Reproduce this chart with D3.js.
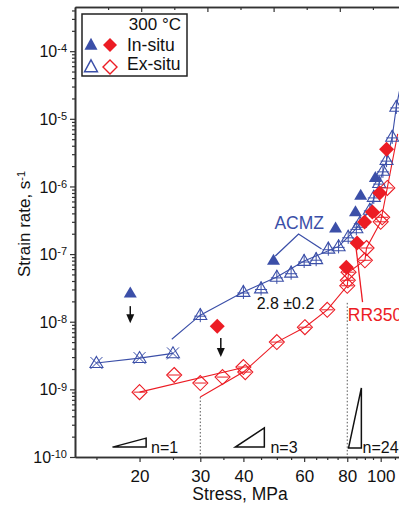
<!DOCTYPE html>
<html>
<head>
<meta charset="utf-8">
<script src="https://cdn.jsdelivr.net/npm/d3@7"></script>
<style>
  body { margin: 0; background: #fff; }
  text { font-family: "Liberation Sans", Arial, sans-serif; }
</style>
</head>
<body>
<svg id="chart" width="399" height="506"></svg>
<script>
// data: [stress MPa, strain rate 1/s]
var acmzInSitu = [[18.8, 2.65e-8], [48.9, 8.1e-8], [74, 2.42e-7], [84.5, 4.2e-7], [87.5, 7.4e-7], [96.5, 1.35e-6]];
var acmzExSitu = [[15, 2.45e-9], [20, 2.9e-9], [25, 3.4e-9], [30, 1.25e-8], [40, 2.75e-8], [45, 3.1e-8],
                  [50, 4.6e-8], [55, 5.3e-8], [60, 7.9e-8], [65, 8.4e-8], [70.5, 1.2e-7], [75.5, 1.3e-7],
                  [80.5, 1.8e-7], [85, 2.4e-7], [87, 2.9e-7], [93, 4.5e-7], [95.5, 7.0e-7], [99, 1.12e-6],
                  [101.5, 1.7e-6], [104, 2.45e-6], [108, 5.4e-6], [111, 1.5e-5]];
var acmzLow = [[15, 2.45e-9], [20, 2.9e-9], [25, 3.4e-9]];
var acmzMain = [[24.8, 5.5e-9], [30, 1.25e-8], [40, 2.75e-8], [50, 4.6e-8], [60, 7.9e-8], [75.5, 1.3e-7],
                [80.5, 1.8e-7], [85, 2.4e-7], [93, 4.5e-7], [99, 1.12e-6], [104, 2.45e-6], [108, 5.4e-6],
                [111, 1.5e-5], [114, 3e-5]];

var rrInSitu = [[33.6, 8.6e-9], [79.5, 6.4e-8], [85.4, 1.46e-7], [89.8, 2.97e-7], [94.6, 4.2e-7], [99.3, 8e-7], [104, 3.56e-6]];
var rrExSitu = [[20, 9.1e-10], [25.2, 1.63e-9], [30, 1.24e-9], [34.8, 1.52e-9], [40, 2.14e-9], [40.5, 1.8e-9],
                [50, 5.0e-9], [60.3, 8.3e-9], [70, 1.5e-8], [80, 3.4e-8], [80.3, 4.1e-8], [80.7, 5.4e-8],
                [90, 8.1e-8], [91, 1.23e-7], [100, 3.0e-7], [101, 3.5e-7], [104.5, 9.5e-7]];
var rrLow = [[20, 9.1e-10], [40, 2.1e-9]];
var rrMain = [[30, 7.7e-10], [40, 1.8e-9], [50, 5.0e-9], [60.3, 8.3e-9], [70, 1.5e-8], [80, 3.4e-8],
              [80.7, 5.4e-8], [90, 8.1e-8], [91, 1.23e-7], [100, 3.0e-7], [104.5, 9.5e-7], [112, 6e-6]];

// arrows: [stress, from rate, to rate]
var arrows = [[18.8, 1.7e-8, 9.5e-9], [34.4, 5.75e-9, 3.0e-9]];
// dotted guides: [stress, top rate]
var guides = [[30, 7.7e-10], [80, 1.9e-8]];
// slope triangles and their labels
var slopes = [
  {pts: [[16.7, 1.4e-10], [20.9, 1.4e-10], [20.9, 1.9e-10]], label: "n=1", at: [21.6, 1.15e-10]},
  {pts: [[37.9, 1.4e-10], [46, 1.4e-10], [46, 2.7e-10]], label: "n=3", at: [47.9, 1.15e-10]},
  {pts: [[80.7, 1.36e-10], [87.9, 1.36e-10], [87.9, 1.05e-9]], label: "n=24", at: [88.6, 1.15e-10]}
];

var xMajor = [20, 30, 40, 60, 80, 100];
var xMinor = [15, 25, 35, 45, 50, 55, 65, 70, 75, 85, 90, 95, 110, 120];
var yMajor = [1e-10, 1e-9, 1e-8, 1e-7, 1e-6, 1e-5, 1e-4];
var topMajor = [1, 2, 3, 4];
var topMinor = [0.5, 1.5, 2.5, 3.5, 4.5];

var blue = "#3b4fa8", red = "#ec1c24", ink = "#222";

var svg = d3.select("#chart");
var padLeft = 75, padBottom = 457, padTop = 7;

var x = d3.scaleLog().domain([13, 130]).range([padLeft, padLeft + 345]);
var y = d3.scaleLog().domain([1e-10, 4.5e-4]).range([padBottom, padTop]);
var xt = d3.scaleLinear().domain([0, 5]).range([padLeft, padLeft + 331]);

var yMinor = [];
for (var e = -10; e <= -4; e++) {
  for (var k = 2; k <= 9; k++) {
    var v = k * Math.pow(10, e);
    if (v < 4.5e-4) yMinor.push(v);
  }
}

// axes
var gx = svg.append("g").attr("transform", "translate(0," + padBottom + ")");
gx.call(d3.axisBottom(x).tickValues(xMinor).tickSize(3).tickSizeOuter(0).tickFormat(""));
gx.append("g").call(d3.axisBottom(x).tickValues(xMajor).tickSize(5).tickSizeOuter(0).tickPadding(8).tickFormat(d3.format("d")));
gx.selectAll("text").attr("font-size", "17px").attr("fill", "#111").attr("font-family", "Liberation Sans, Arial, sans-serif");

var gy = svg.append("g").attr("transform", "translate(" + padLeft + ",0)");
gy.call(d3.axisLeft(y).tickValues(yMinor).tickSize(3).tickSizeOuter(0).tickFormat(""));
var gyMaj = gy.append("g").call(d3.axisLeft(y).tickValues(yMajor).tickSize(5).tickSizeOuter(0).tickFormat(""));
gyMaj.selectAll(".tick")
  .append("text")
  .attr("x", -8)
  .attr("dy", "0.35em")
  .attr("text-anchor", "end")
  .attr("fill", "#111")
  .attr("font-size", "16px")
  .attr("font-family", "Liberation Sans, Arial, sans-serif")
  .text("10")
  .append("tspan")
  .attr("dy", "-0.45em")
  .attr("font-size", "11px")
  .text(function(d) { return "-" + Math.round(-Math.log10(d)); });

var gt = svg.append("g").attr("transform", "translate(0," + padTop + ")");
gt.call(d3.axisBottom(xt).tickValues(topMinor).tickSize(3).tickSizeOuter(0).tickFormat(""));
gt.append("g").call(d3.axisBottom(xt).tickValues(topMajor).tickSize(5).tickSizeOuter(0).tickFormat(""));

svg.selectAll(".domain").attr("stroke", "#333").attr("stroke-width", 1.6);
svg.selectAll(".tick line").attr("stroke", "#333").attr("stroke-width", 1.2);

// axis titles
svg.append("text")
  .attr("x", 240).attr("y", 500)
  .attr("text-anchor", "middle")
  .attr("font-size", "17.5px").attr("fill", "#111")
  .text("Stress, MPa");

var yl = svg.append("text")
  .attr("transform", "translate(30,277) rotate(-90)")
  .attr("font-size", "17px").attr("fill", "#111")
  .text("Strain rate, s");
yl.append("tspan").attr("dy", "-0.45em").attr("font-size", "11px").text("-1");

// guides
svg.append("g").selectAll("line").data(guides).join("line")
  .attr("x1", function(d) { return x(d[0]); }).attr("x2", function(d) { return x(d[0]); })
  .attr("y1", function(d) { return y(d[1]); }).attr("y2", y(1e-10))
  .attr("stroke", "#555").attr("stroke-width", 1).attr("stroke-dasharray", "1.5,2");

// lines
var line = d3.line().x(function(d) { return x(d[0]); }).y(function(d) { return y(d[1]); });
var plot = svg.append("g");
[[acmzLow, blue], [acmzMain, blue], [rrLow, red], [rrMain, red]].forEach(function(s) {
  plot.append("path").datum(s[0])
    .attr("fill", "none").attr("stroke", s[1]).attr("stroke-width", 1.1)
    .attr("d", line);
});

// marker shapes
function tri(w, h) { return "M0," + (-h * 0.6) + "L" + (w / 2) + "," + (h * 0.4) + "L" + (-w / 2) + "," + (h * 0.4) + "Z"; }
function dia(r) { return "M0," + (-r) + "L" + r + ",0L0," + r + "L" + (-r) + ",0Z"; }

// ex-situ open markers with bars
var exA = plot.append("g").selectAll("g").data(acmzExSitu).join("g")
  .attr("transform", function(d) { return "translate(" + x(d[0]) + "," + y(d[1]) + ")"; });
exA.append("path").attr("d", tri(13, 11)).attr("fill", "none").attr("stroke", blue).attr("stroke-width", 1.1);
exA.append("path")
  .attr("d", function(d) { return d[0] < 27 ? "M-6,-6L6,6M-6,6L6,-6" : "M-6,1L6,1M0,-7L0,7"; })
  .attr("stroke", blue).attr("stroke-width", 1);

var exR = plot.append("g").selectAll("g").data(rrExSitu).join("g")
  .attr("transform", function(d) { return "translate(" + x(d[0]) + "," + y(d[1]) + ")"; });
exR.append("path").attr("d", dia(7.5)).attr("fill", "none").attr("stroke", red).attr("stroke-width", 1.1);
exR.append("path").attr("d", "M-6,0L6,0").attr("stroke", red).attr("stroke-width", 1);

// in-situ filled markers
plot.append("g").selectAll("path").data(acmzInSitu).join("path")
  .attr("transform", function(d) { return "translate(" + x(d[0]) + "," + y(d[1]) + ")"; })
  .attr("d", tri(13, 11)).attr("fill", blue);
plot.append("g").selectAll("path").data(rrInSitu).join("path")
  .attr("transform", function(d) { return "translate(" + x(d[0]) + "," + y(d[1]) + ")"; })
  .attr("d", dia(7.5)).attr("fill", red);

// arrows
var ar = svg.append("g").selectAll("g").data(arrows).join("g");
ar.append("line")
  .attr("x1", function(d) { return x(d[0]); }).attr("x2", function(d) { return x(d[0]); })
  .attr("y1", function(d) { return y(d[1]); }).attr("y2", function(d) { return y(d[2]) - 6; })
  .attr("stroke", "#111").attr("stroke-width", 1.5);
ar.append("path")
  .attr("d", function(d) { var cx = x(d[0]), cy = y(d[2]); return "M" + (cx - 4) + "," + (cy - 9) + "L" + (cx + 4) + "," + (cy - 9) + "L" + cx + "," + cy + "Z"; })
  .attr("fill", "#111");

// slope triangles
var sl = svg.append("g").selectAll("g").data(slopes).join("g");
sl.append("path")
  .attr("d", function(d) { return line(d.pts) + "Z"; })
  .attr("fill", "none").attr("stroke", "#111").attr("stroke-width", 1.5);
sl.append("text")
  .attr("x", function(d) { return x(d.at[0]); }).attr("y", function(d) { return y(d.at[1]); })
  .attr("font-size", "16px").attr("fill", "#111")
  .text(function(d) { return d.label; });

// annotations
svg.append("text").attr("x", x(49.2)).attr("y", y(2.34e-7))
  .attr("font-size", "17.5px").attr("fill", blue).text("ACMZ");
svg.append("path")
  .attr("d", line([[49.5, 9.35e-8], [57.8, 1.98e-7], [67.4, 1.19e-7]]))
  .attr("fill", "none").attr("stroke", blue).attr("stroke-width", 1.3);

svg.append("text").attr("x", x(43.7)).attr("y", y(1.54e-8))
  .attr("font-size", "16px").attr("fill", "#111").text("2.8 \u00b10.2");

svg.append("text").attr("x", x(80.3)).attr("y", y(1.02e-8))
  .attr("font-size", "17.5px").attr("fill", red).text("RR350");
svg.append("path")
  .attr("d", line([[88.6, 1.95e-8], [84.5, 1.46e-7]]))
  .attr("fill", "none").attr("stroke", red).attr("stroke-width", 1.3);

// legend
var lg = svg.append("g");
lg.append("rect").attr("x", 82).attr("y", 14).attr("width", 105).attr("height", 62)
  .attr("fill", "#fff").attr("stroke", ink).attr("stroke-width", 1.5);
lg.append("text").attr("x", 181).attr("y", 30).attr("text-anchor", "end")
  .attr("font-size", "17px").attr("fill", "#111").text("300 \u00b0C");
lg.append("path").attr("transform", "translate(91,45)").attr("d", tri(13, 12)).attr("fill", blue);
lg.append("path").attr("transform", "translate(110,45)").attr("d", dia(7)).attr("fill", red);
lg.append("path").attr("transform", "translate(91,67)").attr("d", tri(13, 12)).attr("fill", "none").attr("stroke", blue).attr("stroke-width", 1.4);
lg.append("path").attr("transform", "translate(110,67)").attr("d", dia(7)).attr("fill", "none").attr("stroke", red).attr("stroke-width", 1.4);
lg.append("text").attr("x", 127).attr("y", 51).attr("font-size", "17.5px").attr("fill", "#111").text("In-situ");
lg.append("text").attr("x", 127).attr("y", 70).attr("font-size", "17.5px").attr("fill", "#111").text("Ex-situ");
</script>
</body>
</html>
